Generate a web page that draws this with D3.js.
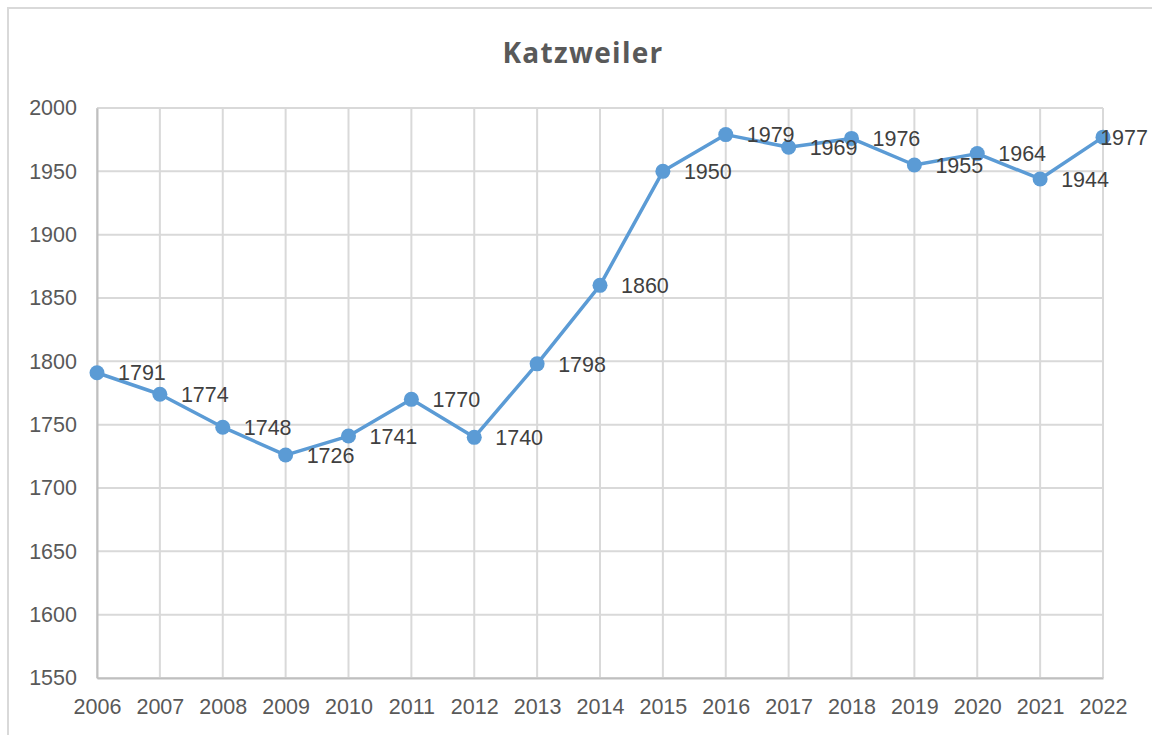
<!DOCTYPE html>
<html>
<head>
<meta charset="utf-8">
<script src="https://cdn.jsdelivr.net/npm/d3@7"></script>
<style>
    body { margin: 0; background: #fff; }
    svg { display: block; font-family: "Liberation Sans", Arial, sans-serif; }
</style>
</head>
<body>
<div id="chart"></div>
<script>
// chart data
var chartTitle = "Katzweiler";
var years = ["2006", "2007", "2008", "2009", "2010", "2011", "2012", "2013", "2014",
    "2015", "2016", "2017", "2018", "2019", "2020", "2021", "2022"];
var population = [1791, 1774, 1748, 1726, 1741, 1770, 1740, 1798, 1860,
    1950, 1979, 1969, 1976, 1955, 1964, 1944, 1977];
var yTicks = [1550, 1600, 1650, 1700, 1750, 1800, 1850, 1900, 1950, 2000];

var width = 1152, height = 735;
var margin = {left: 97, right: 49, top: 108, bottom: 57};

var svg = d3.select("#chart")
    .append("svg")
    .attr("width", width)
    .attr("height", height);

// outer frame
svg.append("rect")
    .attr("x", 8)
    .attr("y", 8)
    .attr("width", width + 20)
    .attr("height", height + 20)
    .attr("fill", "none")
    .attr("stroke", "#d9d9d9")
    .attr("stroke-width", 2);

var x = d3.scalePoint()
    .domain(years)
    .range([margin.left, width - margin.right]);

var y = d3.scaleLinear()
    .domain([1550, 2000])
    .range([height - margin.bottom, margin.top]);

// horizontal gridlines
svg.append("g")
    .selectAll("line")
    .data(yTicks)
    .enter()
    .append("line")
    .attr("x1", margin.left)
    .attr("x2", width - margin.right)
    .attr("y1", function (d) { return y(d); })
    .attr("y2", function (d) { return y(d); })
    .attr("stroke", "#d9d9d9")
    .attr("stroke-width", 2);

// vertical gridlines
svg.append("g")
    .selectAll("line")
    .data(years)
    .enter()
    .append("line")
    .attr("x1", function (d) { return x(d); })
    .attr("x2", function (d) { return x(d); })
    .attr("y1", y(2000))
    .attr("y2", y(1550))
    .attr("stroke", "#d9d9d9")
    .attr("stroke-width", 2);

// axes
var yAxis = svg.append("g")
    .attr("transform", "translate(" + margin.left + ",0)")
    .call(d3.axisLeft(y).tickValues(yTicks).tickFormat(d3.format("d")).tickSize(0).tickPadding(20));
yAxis.select(".domain").attr("stroke", "#bfbfbf").attr("stroke-width", 2);
yAxis.selectAll("text")
    .attr("fill", "#595959")
    .attr("font-size", "21.5px")
    .attr("font-family", "Liberation Sans, Arial, sans-serif");

var xAxis = svg.append("g")
    .attr("transform", "translate(0," + y(1550) + ")")
    .call(d3.axisBottom(x).tickSize(0).tickPadding(21));
xAxis.select(".domain").attr("stroke", "#bfbfbf").attr("stroke-width", 2);
xAxis.selectAll("text")
    .attr("fill", "#595959")
    .attr("font-size", "21.5px")
    .attr("font-family", "Liberation Sans, Arial, sans-serif");

// title
svg.append("text")
    .attr("x", 583)
    .attr("y", 63)
    .attr("text-anchor", "middle")
    .attr("fill", "#595959")
    .attr("font-family", "'Open Sans', 'Noto Sans', sans-serif")
    .attr("font-size", "28px")
    .attr("font-weight", "bold")
    .attr("letter-spacing", "1.3px")
    .text(chartTitle);

// line + markers
var line = d3.line()
    .x(function (d, i) { return x(years[i]); })
    .y(function (d) { return y(d); });

svg.append("path")
    .datum(population)
    .attr("d", line)
    .attr("fill", "none")
    .attr("stroke", "#5b9bd5")
    .attr("stroke-width", 3.5)
    .attr("stroke-linejoin", "round");

svg.append("g")
    .selectAll("circle")
    .data(population)
    .enter()
    .append("circle")
    .attr("cx", function (d, i) { return x(years[i]); })
    .attr("cy", function (d) { return y(d); })
    .attr("r", 7.5)
    .attr("fill", "#5b9bd5");

// data labels to the right of each point, pulled back inside if they would hit the edge
svg.append("g")
    .selectAll("text")
    .data(population)
    .enter()
    .append("text")
    .attr("y", function (d) { return y(d) + 2; })
    .attr("dominant-baseline", "middle")
    .attr("fill", "#404040")
    .attr("font-size", "21.5px")
    .text(function (d) { return d; })
    .attr("x", function (d, i) {
        var w = this.getComputedTextLength();
        return Math.min(x(years[i]) + 21, width - 4 - w);
    });
</script>
</body>
</html>
